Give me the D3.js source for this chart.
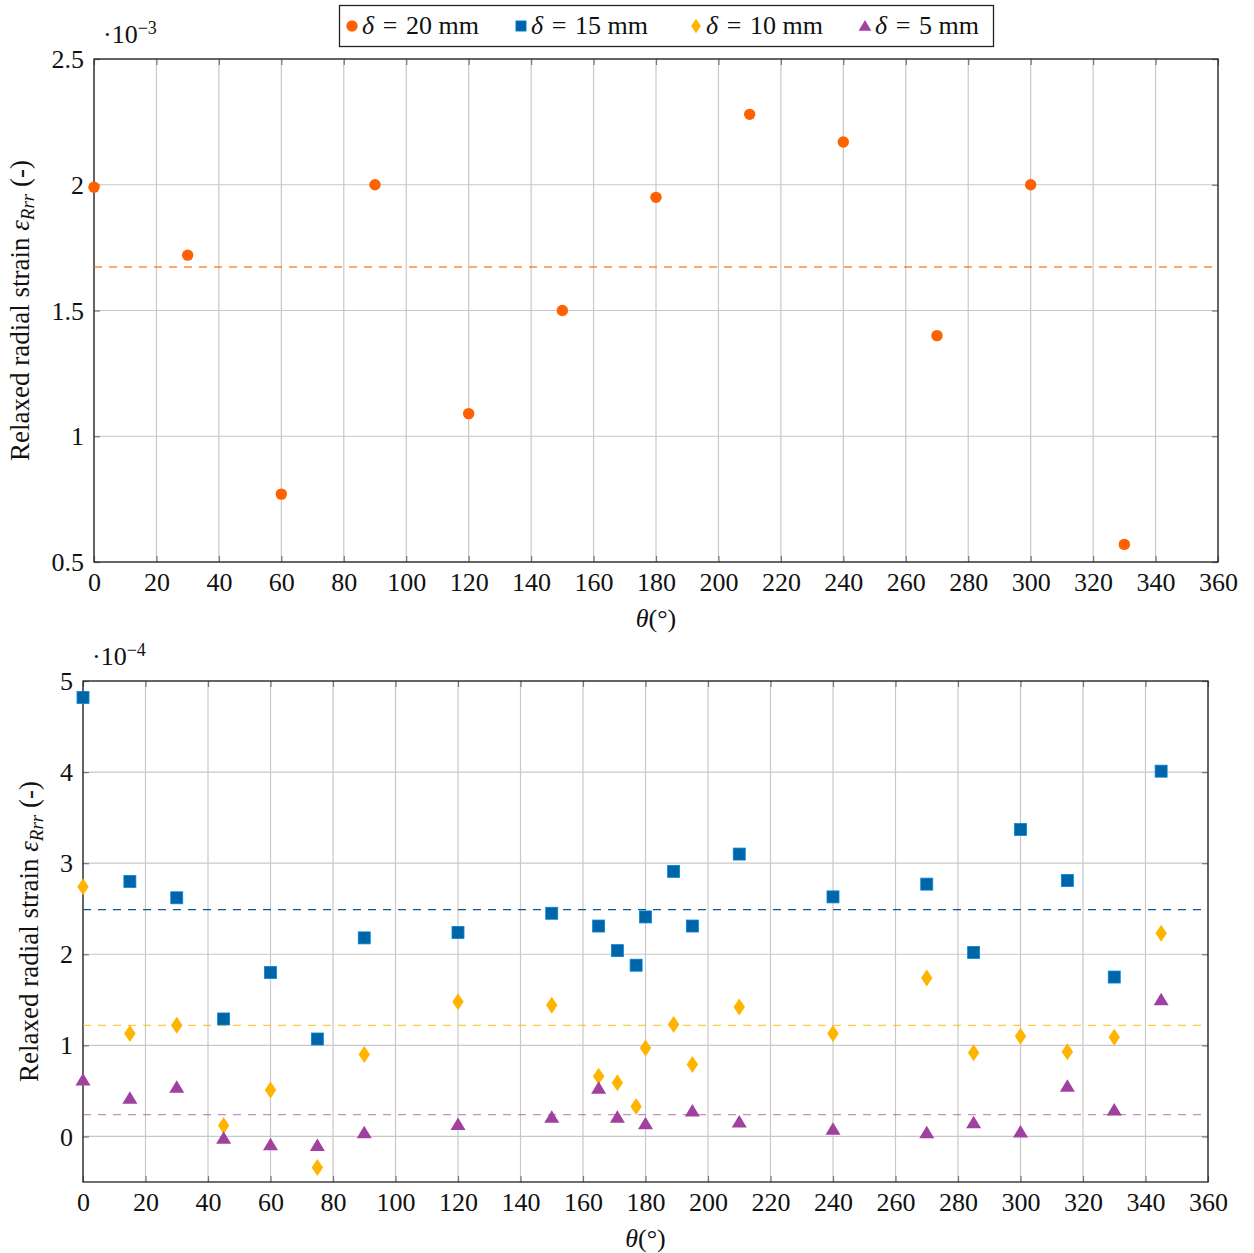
<!DOCTYPE html>
<html>
<head>
<meta charset="utf-8">
<script src="https://cdn.jsdelivr.net/npm/d3@7"></script>
<style>
  body { margin: 0; background: #fff; }
  svg text { font-family: "Liberation Serif", "DejaVu Serif", serif; fill: #111; }
</style>
</head>
<body>
<div id="chart"></div>
<script>
// data (strain values in units of the axis multiplier)
var thetaTop = [0, 30, 60, 90, 120, 150, 180, 210, 240, 270, 300, 330];
var d20 = [1.99, 1.72, 0.77, 2.00, 1.09, 1.50, 1.95, 2.28, 2.17, 1.40, 2.00, 0.57];

var thetaBot = [0, 15, 30, 45, 60, 75, 90, 120, 150, 165, 171, 177, 180, 189, 195, 210, 240, 270, 285, 300, 315, 330, 345];
var d15 = [4.82, 2.80, 2.62, 1.29, 1.80, 1.07, 2.18, 2.24, 2.45, 2.31, 2.04, 1.88, 2.41, 2.91, 2.31, 3.10, 2.63, 2.77, 2.02, 3.37, 2.81, 1.75, 4.01];
var d10 = [2.74, 1.13, 1.22, 0.12, 0.51, -0.34, 0.90, 1.48, 1.44, 0.66, 0.59, 0.33, 0.97, 1.23, 0.79, 1.42, 1.13, 1.74, 0.92, 1.10, 0.93, 1.09, 2.23];
var theta5 = [0, 15, 30, 45, 60, 75, 90, 120, 150, 165, 171, 180, 195, 210, 240, 270, 285, 300, 315, 330, 345];
var d5 = [0.62, 0.42, 0.54, -0.02, -0.09, -0.10, 0.04, 0.13, 0.21, 0.53, 0.21, 0.14, 0.28, 0.16, 0.08, 0.04, 0.15, 0.05, 0.55, 0.29, 1.50];

// dashed reference levels
var mean20 = 1.673;
var mean15 = 2.49, mean10 = 1.22, mean5 = 0.24;

var xTicks = d3.range(0, 361, 20);
var yTicksTop = [0.5, 1, 1.5, 2, 2.5];
var yTicksBot = [0, 1, 2, 3, 4, 5];

var legendLabels = ["20", "15", "10", "5"];
var colors = ["#ff6000", "#0065a6", "#ffb400", "#a0409f"];

var svg = d3.select("#chart").append("svg")
  .attr("width", 1254).attr("height", 1253);

// marker drawing
function marker(g, kind, color) {
  if (kind == "circle") {
    g.append("circle").attr("r", 5.7).attr("fill", color);
  } else if (kind == "square") {
    g.append("rect").attr("x", -6).attr("y", -6).attr("width", 12).attr("height", 12)
      .attr("fill", color).attr("stroke", d3.color(color).brighter(0.8)).attr("stroke-width", 0.8);
  } else if (kind == "diamond") {
    g.append("path").attr("d", "M0,-8.5L5.7,0L0,8.5L-5.7,0Z").attr("fill", color);
  } else {
    g.append("path").attr("d", "M0,-7L7.5,5.5L-7.5,5.5Z").attr("fill", color);
  }
}

function panel(box, yDomain, yTicks, expo, series, means) {
  var x = d3.scaleLinear().domain([0, 360]).range([box.left, box.right]);
  var y = d3.scaleLinear().domain(yDomain).range([box.bottom, box.top]);
  var g = svg.append("g");

  // grid
  g.append("g").selectAll("line").data(xTicks).enter().append("line")
    .attr("x1", d => x(d)).attr("x2", d => x(d))
    .attr("y1", box.top).attr("y2", box.bottom)
    .attr("stroke", "#c8c8c8").attr("stroke-width", 1.2);
  g.append("g").selectAll("line").data(yTicks).enter().append("line")
    .attr("x1", box.left).attr("x2", box.right)
    .attr("y1", d => y(d)).attr("y2", d => y(d))
    .attr("stroke", "#c8c8c8").attr("stroke-width", 1.2);

  // axes (ticks inside, mirrored)
  var xb = g.append("g").attr("transform", "translate(0," + box.bottom + ")")
    .call(d3.axisBottom(x).tickValues(xTicks).tickSizeInner(-6).tickSizeOuter(0).tickPadding(10).tickFormat(d3.format("d")));
  var xt = g.append("g").attr("transform", "translate(0," + box.top + ")")
    .call(d3.axisTop(x).tickValues(xTicks).tickSizeInner(-6).tickSizeOuter(0).tickFormat(""));
  var yl = g.append("g").attr("transform", "translate(" + box.left + ",0)")
    .call(d3.axisLeft(y).tickValues(yTicks).tickSizeInner(-6).tickSizeOuter(0).tickPadding(10).tickFormat(d => d3.format("")(d)));
  var yr = g.append("g").attr("transform", "translate(" + box.right + ",0)")
    .call(d3.axisRight(y).tickValues(yTicks).tickSizeInner(-6).tickSizeOuter(0).tickFormat(""));
  [xb, xt, yl, yr].forEach(function(a) {
    a.select(".domain").remove();
    a.selectAll(".tick line").attr("stroke", "#777").attr("stroke-width", 1.2);
    a.selectAll("text").style("font-size", "26px").attr("fill", "#111");
  });
  xb.selectAll("text").attr("dy", "0.72em");
  yl.selectAll("text").attr("dy", "0.33em");

  g.append("rect").attr("x", box.left).attr("y", box.top)
    .attr("width", box.right - box.left).attr("height", box.bottom - box.top)
    .attr("fill", "none").attr("stroke", "#222").attr("stroke-width", 1.3);

  // mean lines
  means.forEach(function(m) {
    g.append("line").attr("x1", box.left).attr("x2", box.right)
      .attr("y1", y(m.v)).attr("y2", y(m.v))
      .attr("stroke", m.color).attr("stroke-opacity", m.op).attr("stroke-width", 1.3)
      .attr("stroke-dasharray", "8,7");
  });

  // points
  series.forEach(function(s) {
    var pts = g.append("g").selectAll("g").data(s.x.map((t, i) => [t, s.v[i]])).enter().append("g")
      .attr("transform", d => "translate(" + x(d[0]) + "," + y(d[1]) + ")");
    pts.each(function() { marker(d3.select(this), s.kind, s.color); });
  });

  // exponent label
  var ex = g.append("text").attr("x", box.left + expo.dx).attr("y", box.top - 16).style("font-size", "26px");
  ex.append("tspan").text("·10");
  ex.append("tspan").attr("dy", -9).style("font-size", "18px").text("−" + expo.p);

  // y label
  var yt = g.append("text")
    .attr("transform", "translate(" + box.ylab + "," + ((box.top + box.bottom) / 2) + ") rotate(-90)")
    .attr("text-anchor", "middle").style("font-size", "27px");
  yt.append("tspan").text("Relaxed radial strain ");
  yt.append("tspan").style("font-style", "italic").text("ε");
  yt.append("tspan").attr("dy", 5).style("font-style", "italic").style("font-size", "19px").text("Rrr");
  yt.append("tspan").attr("dy", -5).text(" (-)");

  // x label
  var xtl = g.append("text").attr("x", (box.left + box.right) / 2).attr("y", box.bottom + 65)
    .attr("text-anchor", "middle").style("font-size", "26px");
  xtl.append("tspan").style("font-style", "italic").text("θ");
  xtl.append("tspan").text("(°)");
}

panel({left: 94, right: 1218, top: 59, bottom: 562, ylab: 29}, [0.5, 2.5], yTicksTop, {dx: 9, p: 3},
  [{x: thetaTop, v: d20, kind: "circle", color: colors[0]}],
  [{v: mean20, color: colors[0], op: 0.75}]);

panel({left: 83, right: 1208, top: 681, bottom: 1182, ylab: 38}, [-0.5, 5], yTicksBot, {dx: 9, p: 4},
  [{x: thetaBot, v: d15, kind: "square", color: colors[1]},
   {x: thetaBot, v: d10, kind: "diamond", color: colors[2]},
   {x: theta5, v: d5, kind: "triangle", color: colors[3]}],
  [{v: mean15, color: "#0b5590", op: 1}, {v: mean10, color: colors[2], op: 0.7}, {v: mean5, color: colors[3], op: 0.6}]);

// legend
var leg = svg.append("g");
leg.append("rect").attr("x", 339.5).attr("y", 5.5).attr("width", 654).attr("height", 41)
  .attr("fill", "#fff").attr("stroke", "#222").attr("stroke-width", 1.3);
var kinds = ["circle", "square", "diamond", "triangle"];
var legX = [352, 521, 696, 865];
legendLabels.forEach(function(lab, i) {
  var m = leg.append("g").attr("transform", "translate(" + legX[i] + ",26)");
  var mk = m.append("g").attr("transform", kinds[i] == "circle" ? "" : "scale(0.85)");
  marker(mk, kinds[i], colors[i]);
  var t = leg.append("text").attr("x", legX[i] + 10).attr("y", 34).style("font-size", "26px");
  t.append("tspan").style("font-style", "italic").text("δ");
  t.append("tspan").text("\u2004=\u2004" + lab + " mm");
});
</script>
</body>
</html>
